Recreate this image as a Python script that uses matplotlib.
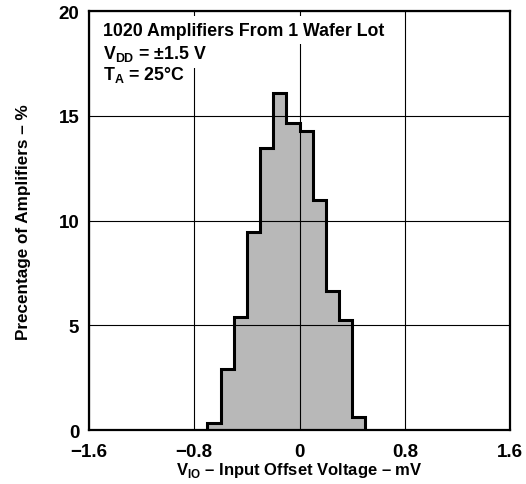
import numpy as np
import matplotlib
matplotlib.use("Agg")
import matplotlib.pyplot as plt

plt.rcParams['font.family'] = ['Liberation Sans', 'DejaVu Sans']
plt.rcParams['font.weight'] = 'bold'
plt.rcParams['mathtext.fontset'] = 'custom'
plt.rcParams['mathtext.rm'] = 'Liberation Sans:bold'
plt.rcParams['mathtext.bf'] = 'Liberation Sans:bold'

# bin edges (mV) and percentage of amplifiers per bin
bin_edges = [-0.7, -0.6, -0.5, -0.4, -0.3, -0.2, -0.1, 0.0, 0.1, 0.2, 0.3, 0.4, 0.5]
percent = [0.33, 2.91, 5.40, 9.44, 13.47, 16.07, 14.67, 14.27, 10.97, 6.62, 5.27, 0.62]
x_ticks = [-1.6, -0.8, 0, 0.8, 1.6]
x_ticklabels = ['\u22121.6', '\u22120.8', '0', '0.8', '1.6']
y_ticks = [0, 5, 10, 15, 20]
notes = ['1020 Amplifiers From 1 Wafer Lot',
         'V$_{\\mathregular{DD}}$ = \u00b11.5 V',
         'T$_{\\mathregular{A}}$ = 25\u00b0C']

fig = plt.figure(figsize=(5.26, 4.85), dpi=100)
ax = fig.add_axes([0.169, 0.111, 0.801, 0.864])

ax.stairs(percent, bin_edges, fill=True, facecolor='#b8b8b8', edgecolor='none', zorder=1)
ax.stairs(percent, bin_edges, fill=False, edgecolor='black', linewidth=2.2, zorder=3)

ax.set_xlim(-1.6, 1.6)
ax.set_ylim(0, 20)
ax.set_xticks(x_ticks)
ax.set_xticklabels(x_ticklabels)
ax.set_yticks(y_ticks)
ax.tick_params(length=0, labelsize=13.5)
ax.tick_params(axis='x', pad=9)
ax.tick_params(axis='y', pad=7)
for lab in ax.get_xticklabels() + ax.get_yticklabels():
    lab.set_fontweight('bold')
ax.grid(True, color='black', linewidth=0.8, zorder=2)
ax.set_axisbelow(False)
for s in ax.spines.values():
    s.set_linewidth(1.6)

ax.set_xlabel('V$_{\\mathregular{IO}}$ \u2013 Input Offset Voltage \u2013 mV',
              fontsize=12, fontweight='bold', labelpad=0)
ax.set_ylabel('Precentage of Amplifiers \u2013 %', fontsize=12.3, fontweight='bold', labelpad=20)

# white patches behind the notes (hide the grid there), then the notes on top
box = dict(facecolor='white', edgecolor='none', pad=4)
for i, s in enumerate(notes):
    y = 0.975 - 0.05 * i
    ax.text(0.033, y, s, transform=ax.transAxes, fontsize=12.8, fontweight='bold',
            va='top', color='white', bbox=box, zorder=4)
for i, s in enumerate(notes):
    y = 0.975 - 0.05 * i
    ax.text(0.033, y, s, transform=ax.transAxes, fontsize=12.8, fontweight='bold',
            va='top', zorder=6)

fig.savefig('out.png', dpi=100)
